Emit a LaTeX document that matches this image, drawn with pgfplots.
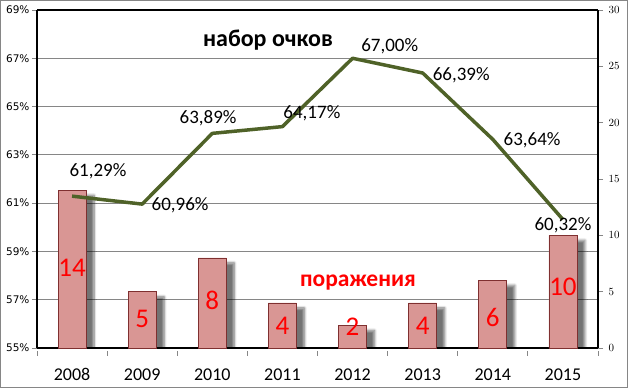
\documentclass[border=0pt]{standalone}
\usepackage{pgfplots}
\pgfplotsset{compat=1.18}
\usepackage{fontspec}
\setmainfont{Carlito}
\newfontfamily\tah{DejaVu Sans}
\usetikzlibrary{shadows.blur}
\definecolor{linecol}{HTML}{4F6228}
\definecolor{barfill}{HTML}{D99694}
\definecolor{barborder}{HTML}{7F3030}
\definecolor{gridcol}{HTML}{868686}
\begin{document}
\begin{tikzpicture}[x=1pt,y=1pt]
\path[use as bounding box] (0,0) rectangle (628,388);
\draw[gridcol, line width=1pt] (0.5,0.5) rectangle (627.5,387.5);
% Axis A: left scale, grid
\begin{axis}[
  at={(37pt,40pt)}, anchor=south west, scale only axis,
  width=561pt, height=338pt,
  xmin=-0.5, xmax=7.5, ymin=55, ymax=69,
  axis line style={black, line width=1.3pt},
  xtick={0,...,7},
  xticklabels={2008,2009,2010,2011,2012,2013,2014,2015},
  xticklabel style={font=\fontsize{18}{18}\selectfont, yshift=-12pt},
  major x tick style={draw=none},
  minor xtick={-0.5,0.5,...,7.5},
  minor tick length=5pt,
  minor x tick style={gridcol, line width=0.8pt, yshift=-2.5pt},
  ytick={55,57,...,69},
  yticklabels={55\%,57\%,59\%,61\%,63\%,65\%,67\%,69\%},
  yticklabel style={font=\tah\fontsize{10.5}{10.5}\selectfont, xshift=1pt},
  ytick align=outside, xtick align=outside,
  major tick length=5pt,
  ytick pos=left,
  y tick style={gridcol, line width=0.8pt},
  ymajorgrids, grid style={gridcol, line width=0.8pt},
  axis x line*=bottom, axis y line*=left,
]
\end{axis}
% Axis B: right scale, bars
\begin{axis}[
  at={(37pt,40pt)}, anchor=south west, scale only axis,
  width=561pt, height=338pt,
  xmin=-0.5, xmax=7.5, ymin=0, ymax=30,
  axis line style={black, line width=1.3pt},
  axis x line*=top, axis y line*=right,
  xtick=\empty,
  ytick={0,5,...,30},
  yticklabel style={font=\tah\fontsize{10.5}{10.5}\selectfont, xshift=2pt},
  ytick align=outside, major tick length=5pt,
  y tick style={gridcol, line width=0.8pt},
  ybar, bar width=28pt,
]
\addplot[fill=barfill, draw=barborder, line width=0.7pt,
  blur shadow={shadow xshift=8pt, shadow yshift=-5pt, shadow blur steps=8, shadow blur radius=2.5pt, shadow opacity=55}]
  coordinates {(0,14) (1,5) (2,8) (3,4) (4,2) (5,4) (6,6) (7,10)};
\begin{scope}[every node/.style={red, font=\fontsize{27}{27}\selectfont}]
\node at (axis cs:0,7.1) {14};
\node at (axis cs:1,2.6) {5};
\node at (axis cs:2,4.2) {8};
\node at (axis cs:3,1.95) {4};
\node at (axis cs:4,1.85) {2};
\node at (axis cs:5,1.95) {4};
\node at (axis cs:6,2.75) {6};
\node at (axis cs:7,5.4) {10};
\end{scope}
\end{axis}
% Axis C: left scale, line
\begin{axis}[
  at={(37pt,40pt)}, anchor=south west, scale only axis,
  width=561pt, height=338pt,
  xmin=-0.5, xmax=7.5, ymin=55, ymax=69,
  hide axis, clip=false,
]
\addplot[linecol, line width=3.5pt, line join=round, mark=none]
  coordinates {(0,61.29) (1,60.96) (2,63.89) (3,64.17) (4,67.00) (5,66.39) (6,63.64) (7,60.32)};
\begin{scope}[every node/.style={black, font=\fontsize{19}{19}\selectfont}]
\node at (axis cs:0.37,62.33) {61,29\%};
\node at (axis cs:1.54,60.92) {60,96\%};
\node at (axis cs:1.94,64.53) {63,89\%};
\node at (axis cs:3.42,64.73) {64,17\%};
\node at (axis cs:4.53,67.51) {67,00\%};
\node at (axis cs:5.55,66.31) {66,39\%};
\node at (axis cs:6.56,63.62) {63,64\%};
\node at (axis cs:7.0,60.10) {60,32\%};
\end{scope}
\end{axis}
\node[font=\bfseries\fontsize{24}{24}\selectfont] at (268,348) {набор очков};
\node[red, font=\bfseries\fontsize{23.5}{23.5}\selectfont] at (358,105) {поражения};
\end{tikzpicture}
\end{document}
